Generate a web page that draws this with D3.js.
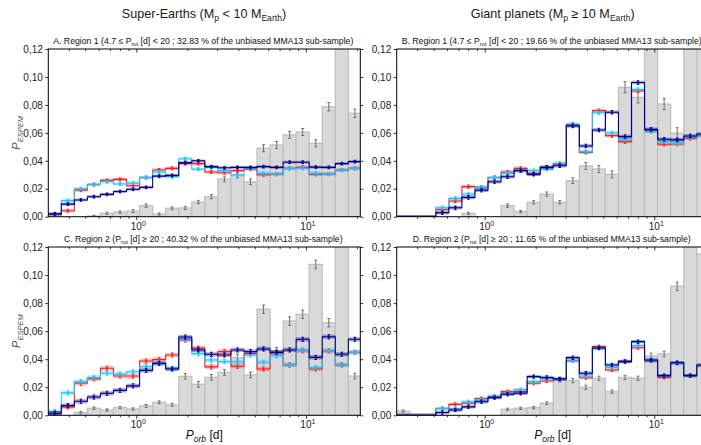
<!DOCTYPE html>
<html>
<head>
<meta charset="utf-8">
<script src="https://cdn.jsdelivr.net/npm/d3@7"></script>
<style>
  body { margin: 0; background: #fff; }
  svg { display: block; font-family: "Liberation Sans", Arial, sans-serif; }
</style>
</head>
<body>
<svg id="chart" width="701" height="445"></svg>
<script>
// orbital period bin edges [d] (log spaced)
const binEdges = [0.3029, 0.3614, 0.4314, 0.5150, 0.6149, 0.7339, 0.8762, 1.0461, 1.2487,
  1.4906, 1.7797, 2.1248, 2.5365, 3.0281, 3.6141, 4.3152, 5.1512, 6.1491, 7.3402,
  8.7614, 10.461, 12.487, 14.906, 17.797, 21.248];
const xDomain = [0.3029, 20.93];
const yTicks = [0, 0.02, 0.04, 0.06, 0.08, 0.10, 0.12];
const xMajor = [1, 10];
const xMinor = [0.4, 0.5, 0.6, 0.7, 0.8, 0.9, 2, 3, 4, 5, 6, 7, 8, 9, 20];

// A. super-earths, region 1
const aGray = [0, 0, 0, 0.0005, 0.0024, 0.0033, 0.004, 0.0079, 0.0019, 0.006, 0.0062, 0.0105,
  0.0143, 0.027, 0.0298, 0.025, 0.049, 0.0513, 0.0585, 0.0606, 0.0525, 0.0787, 0.13, 0.074];
const aGrayErr = [0, 0, 0, 0.0005, 0.0008, 0.0008, 0.001, 0.0012, 0.0008, 0.001, 0.001, 0.0012,
  0.0015, 0.002, 0.002, 0.002, 0.0025, 0.0025, 0.0025, 0.0025, 0.0025, 0.003, 0.003, 0.003];
const aRed = [0.0015, 0.0043, 0.019, 0.023, 0.026, 0.0267, 0.0222, 0.028, 0.0334, 0.0346, 0.038, 0.038,
  0.032, 0.0315, 0.033, 0.034, 0.030, 0.0305, 0.0346, 0.0353, 0.0303, 0.0305, 0.0334, 0.0346];
const aCyan = [0.002, 0.0115, 0.020, 0.023, 0.025, 0.0234, 0.024, 0.028, 0.032, 0.0286, 0.0415, 0.034,
  0.0353, 0.033, 0.0298, 0.0346, 0.031, 0.0305, 0.0346, 0.0346, 0.031, 0.0305, 0.0334, 0.0346];
const aNavy = [0.002, 0.009, 0.012, 0.0143, 0.016, 0.018, 0.0196, 0.021, 0.029, 0.0296, 0.0387, 0.040,
  0.0358, 0.035, 0.0353, 0.0353, 0.0358, 0.0353, 0.039, 0.039, 0.0355, 0.0353, 0.038, 0.0394];
const aErr = [0.0011, 0.0011, 0.001];

// B. giant planets, region 1
const bGray = [0, 0, 0, 0, 0, 0.0024, 0, 0, 0.0079, 0.0036, 0.0103, 0.0162,
  0.0103, 0.0258, 0.0363, 0.0341, 0.0303, 0.0926, 0.0854, 0.13, 0.0806, 0.0597, 0.13, 0.13];
const bGrayErr = [0, 0, 0, 0, 0, 0.0008, 0, 0, 0.0012, 0.0008, 0.0012, 0.0015,
  0.0012, 0.002, 0.0025, 0.0025, 0.0025, 0.004, 0.004, 0.004, 0.004, 0.004, 0.004, 0.004];
const bRed = [0, 0, 0, 0.0052, 0.0112, 0.0215, 0.021, 0.028, 0.032, 0.0346, 0.0305, 0.0353,
  0.038, 0.066, 0.046, 0.0759, 0.058, 0.0537, 0.090, 0.0615, 0.0518, 0.052, 0.056, 0.058];
const bCyan = [0, 0, 0, 0.0064, 0.0131, 0.0162, 0.021, 0.028, 0.031, 0.0334, 0.033, 0.034,
  0.038, 0.066, 0.0465, 0.0744, 0.060, 0.0553, 0.091, 0.061, 0.0537, 0.0525, 0.0568, 0.058];
const bNavy = [0, 0, 0, 0.0029, 0.0064, 0.0138, 0.019, 0.025, 0.0286, 0.033, 0.0305, 0.0353,
  0.0365, 0.065, 0.0506, 0.062, 0.0747, 0.0573, 0.096, 0.0625, 0.0554, 0.055, 0.0578, 0.0592];
const bErr = [0.0012, 0.0012, 0.0013];

// C. super-earths, region 2
const cGray = [0, 0, 0.002, 0.005, 0.0038, 0.0055, 0.0045, 0.0067, 0.0093, 0.0074, 0.0278, 0.0221,
  0.0271, 0.0306, 0.041, 0.0288, 0.0756, 0.0459, 0.0672, 0.072, 0.1076, 0.066, 0.13, 0.028];
const cGrayErr = [0, 0, 0.0008, 0.0008, 0.0008, 0.0008, 0.0008, 0.001, 0.001, 0.001, 0.002, 0.002,
  0.002, 0.002, 0.0025, 0.002, 0.003, 0.0025, 0.003, 0.003, 0.003, 0.003, 0.003, 0.002];
const cRed = [0.001, 0.006, 0.0228, 0.026, 0.0335, 0.028, 0.028, 0.0387, 0.0397, 0.043, 0.0537, 0.048,
  0.0345, 0.0454, 0.035, 0.044, 0.033, 0.0449, 0.0359, 0.046, 0.033, 0.0459, 0.0359, 0.0449];
const cCyan = [0.0026, 0.016, 0.024, 0.027, 0.030, 0.0295, 0.031, 0.0347, 0.037, 0.0335, 0.0544, 0.044,
  0.0394, 0.0383, 0.038, 0.043, 0.0378, 0.0425, 0.0359, 0.0466, 0.034, 0.0459, 0.0359, 0.045];
const cNavy = [0.0015, 0.007, 0.010, 0.013, 0.0157, 0.0178, 0.021, 0.032, 0.037, 0.033, 0.0558, 0.0466,
  0.0435, 0.043, 0.0466, 0.0454, 0.0473, 0.0449, 0.0466, 0.0542, 0.0413, 0.056, 0.0435, 0.0542];
const cErr = [0.0015, 0.0015, 0.0015];

// D. giant planets, region 2
const dGray = [0.003, 0, 0, 0, 0, 0, 0, 0, 0.0043, 0.005, 0.0055, 0.0086,
  0.0252, 0.0247, 0.020, 0.0264, 0.0169, 0.027, 0.0264, 0.0423, 0.0437, 0.092, 0.13, 0.115];
const dGrayErr = [0.0008, 0, 0, 0, 0, 0, 0, 0, 0.0008, 0.0008, 0.0008, 0.001,
  0.0015, 0.0015, 0.0015, 0.0015, 0.0012, 0.0015, 0.0015, 0.002, 0.002, 0.003, 0.003, 0.003];
const dRed = [0, 0, 0, 0.0048, 0.0078, 0.0086, 0.012, 0.013, 0.0169, 0.0169, 0.0228, 0.0245,
  0.0255, 0.039, 0.0268, 0.049, 0.0323, 0.0387, 0.0482, 0.0387, 0.027, 0.037, 0.0283, 0.0354];
const dCyan = [0, 0, 0, 0.0048, 0.0045, 0.0097, 0.011, 0.0138, 0.0157, 0.0183, 0.024, 0.026,
  0.0255, 0.0387, 0.028, 0.048, 0.034, 0.0383, 0.0497, 0.0387, 0.028, 0.037, 0.0283, 0.0354];
const dNavy = [0, 0, 0, 0.002, 0.0038, 0.006, 0.0097, 0.0126, 0.015, 0.0157, 0.0276, 0.027,
  0.026, 0.0411, 0.030, 0.048, 0.0359, 0.0383, 0.0525, 0.0394, 0.0283, 0.0376, 0.0283, 0.0359];
const dErr = [0.0011, 0.0011, 0.0012];

const seriesColors = ['#ff1a1a', '#1ec3ff', '#00008b'];
const bandOpacity = [0.3, 0.3, 0.35];

const svg = d3.select('#chart');
const width = 312;

const panels = [
  { key: 'A', x0: 48.3, y0: 49, h: 167.7, gray: aGray, grayErr: aGrayErr, lines: [aRed, aCyan, aNavy], err: aErr,
    sub: ['A. Region 1 (4.7 ≤ P', 'rot', ' [d] < 20 ; 32.83 % of the unbiased MMA13 sub-sample)'], subY: 43.5, yLabel: true, xLabel: false },
  { key: 'B', x0: 396.7, y0: 49, h: 167.7, gray: bGray, grayErr: bGrayErr, lines: [bRed, bCyan, bNavy], err: bErr,
    sub: ['B. Region 1 (4.7 ≤ P', 'rot', ' [d] < 20 ; 19.66 % of the unbiased MMA13 sub-sample)'], subY: 43.5, yLabel: false, xLabel: false },
  { key: 'C', x0: 48.3, y0: 247, h: 168.3, gray: cGray, grayErr: cGrayErr, lines: [cRed, cCyan, cNavy], err: cErr,
    sub: ['C. Region 2 (P', 'rot', ' [d] ≥ 20 ; 40.32 % of the unbiased MMA13 sub-sample)'], subY: 241.5, yLabel: true, xLabel: true },
  { key: 'D', x0: 396.7, y0: 247, h: 168.3, gray: dGray, grayErr: dGrayErr, lines: [dRed, dCyan, dNavy], err: dErr,
    sub: ['D. Region 2 (P', 'rot', ' [d] ≥ 20 ; 11.65 % of the unbiased MMA13 sub-sample)'], subY: 241.5, yLabel: false, xLabel: true }
];

// column titles
function columnTitle(cx, parts) {
  const t = svg.append('text')
    .attr('x', cx).attr('y', 17.5)
    .attr('text-anchor', 'middle')
    .attr('font-size', 12.6)
    .attr('fill', '#1a1a1a');
  parts.forEach(p => {
    const s = t.append('tspan').text(p[0]);
    if (p[1]) s.attr('font-size', 8.6).attr('baseline-shift', '-2.5');
  });
}
columnTitle(204, [['Super-Earths (M'], ['p', true], [' < 10 M'], ['Earth', true], [')']]);
columnTitle(552.7, [['Giant planets (M'], ['p', true], [' ≥ 10 M'], ['Earth', true], [')']]);

panels.forEach(p => {
  const x = d3.scaleLog().domain(xDomain).range([0, width]);
  const y = d3.scaleLinear().domain([0, 0.12]).range([p.h, 0]);

  const g = svg.append('g').attr('transform', `translate(${p.x0},${p.y0})`);

  g.append('clipPath').attr('id', 'clip' + p.key)
    .append('rect').attr('width', width).attr('height', p.h);
  const plot = g.append('g').attr('clip-path', `url(#clip${p.key})`);

  const bins = p.gray.map((v, i) => ({ i, lo: binEdges[i], hi: binEdges[i + 1], v, e: p.grayErr[i] }));

  // gray histogram
  plot.selectAll('.bar')
    .data(bins.filter(d => d.v > 0))
    .enter().append('rect')
    .attr('x', d => x(d.lo))
    .attr('y', d => y(d.v))
    .attr('width', d => x(d.hi) - x(d.lo))
    .attr('height', d => p.h - y(d.v))
    .attr('fill', '#d9d9d9')
    .attr('stroke', '#c0c0c0')
    .attr('stroke-width', 1.3);

  const mid = d => Math.sqrt(d.lo * d.hi);

  // gray error bars
  const ge = plot.selectAll('.gerr')
    .data(bins.filter(d => d.v > 0 && d.e > 0))
    .enter().append('g')
    .attr('stroke', '#707070').attr('stroke-width', 1);
  ge.append('line')
    .attr('x1', d => x(mid(d))).attr('x2', d => x(mid(d)))
    .attr('y1', d => y(d.v - d.e)).attr('y2', d => y(d.v + d.e));
  ge.append('line')
    .attr('x1', d => x(mid(d)) - 1.5).attr('x2', d => x(mid(d)) + 1.5)
    .attr('y1', d => y(d.v - d.e)).attr('y2', d => y(d.v - d.e));
  ge.append('line')
    .attr('x1', d => x(mid(d)) - 1.5).attr('x2', d => x(mid(d)) + 1.5)
    .attr('y1', d => y(d.v + d.e)).attr('y2', d => y(d.v + d.e));

  // step lines with a 1-sigma band
  p.lines.forEach((vals, si) => {
    const col = seriesColors[si];
    const err = p.err[si];
    const pts = vals.map((v, i) => ({ x: binEdges[i], v }));
    pts.push({ x: binEdges[vals.length], v: vals[vals.length - 1] });

    const area = d3.area()
      .x(d => x(d.x))
      .y0(d => y(Math.max(0, d.v - err)))
      .y1(d => y(d.v + err))
      .curve(d3.curveStepAfter);
    plot.append('path').datum(pts)
      .attr('d', area)
      .attr('fill', col)
      .attr('fill-opacity', bandOpacity[si]);

    const line = d3.line()
      .x(d => x(d.x))
      .y(d => y(d.v))
      .curve(d3.curveStepAfter);
    plot.append('path').datum(pts)
      .attr('d', line)
      .attr('fill', 'none')
      .attr('stroke', col)
      .attr('stroke-width', 1.1);

    const marks = vals.map((v, i) => ({ lo: binEdges[i], hi: binEdges[i + 1], v }))
      .filter(d => d.v > 0);
    const me = plot.selectAll('.m' + si).data(marks).enter().append('g')
      .attr('stroke', col).attr('stroke-width', 0.9);
    me.append('line')
      .attr('x1', d => x(mid(d))).attr('x2', d => x(mid(d)))
      .attr('y1', d => y(d.v - err)).attr('y2', d => y(d.v + err));
    me.append('line')
      .attr('x1', d => x(mid(d)) - 1.3).attr('x2', d => x(mid(d)) + 1.3)
      .attr('y1', d => y(d.v - err)).attr('y2', d => y(d.v - err));
    me.append('line')
      .attr('x1', d => x(mid(d)) - 1.3).attr('x2', d => x(mid(d)) + 1.3)
      .attr('y1', d => y(d.v + err)).attr('y2', d => y(d.v + err));
    me.append('circle')
      .attr('cx', d => x(mid(d))).attr('cy', d => y(d.v))
      .attr('r', 1.1).attr('fill', col).attr('stroke', 'none');
  });

  // axes
  const styleAxis = sel => {
    sel.select('.domain').remove();
    sel.selectAll('line').attr('stroke', '#000').attr('stroke-width', 0.8);
  };
  g.append('g').attr('transform', `translate(0,${p.h})`)
    .call(d3.axisBottom(x).tickValues(xMajor).tickSize(3.5).tickFormat(''))
    .call(styleAxis);
  g.append('g').attr('transform', `translate(0,${p.h})`)
    .call(d3.axisBottom(x).tickValues(xMinor).tickSize(2).tickFormat(''))
    .call(styleAxis);
  g.append('g')
    .call(d3.axisTop(x).tickValues(xMajor).tickSize(-3.5).tickFormat(''))
    .call(styleAxis);
  g.append('g')
    .call(d3.axisTop(x).tickValues(xMinor).tickSize(-2).tickFormat(''))
    .call(styleAxis);

  const yAx = g.append('g')
    .call(d3.axisLeft(y).tickValues(yTicks).tickSize(3).tickPadding(2.5)
      .tickFormat(d => d.toFixed(2).replace('.', ',')))
    .call(styleAxis);
  yAx.selectAll('text')
    .attr('font-family', '"Liberation Sans", Arial, sans-serif')
    .attr('font-size', 10).attr('fill', '#222');
  g.append('g').attr('transform', `translate(${width},0)`)
    .call(d3.axisRight(y).tickValues(yTicks).tickSize(3).tickFormat(''))
    .call(styleAxis);

  // x tick labels 10^0, 10^1
  xMajor.forEach(v => {
    const t = g.append('text')
      .attr('x', x(v) + 2).attr('y', p.h + 13)
      .attr('text-anchor', 'middle')
      .attr('font-size', 10).attr('fill', '#222');
    t.append('tspan').text('10');
    t.append('tspan').text(Math.round(Math.log10(v))).attr('font-size', 7).attr('dy', -4);
  });

  // frame
  g.append('rect')
    .attr('width', width).attr('height', p.h)
    .attr('fill', 'none').attr('stroke', '#000').attr('stroke-width', 1);

  // panel subtitle
  const st = svg.append('text')
    .attr('x', p.x0 + width / 2 - 1).attr('y', p.subY)
    .attr('text-anchor', 'middle')
    .attr('font-size', 8.7).attr('fill', '#111');
  st.append('tspan').text(p.sub[0]);
  st.append('tspan').text(p.sub[1]).attr('font-size', 5.8).attr('baseline-shift', '-1.5');
  st.append('tspan').text(p.sub[2]);

  if (p.yLabel) {
    const yl = svg.append('text')
      .attr('transform', `translate(20,${p.y0 + p.h / 2}) rotate(-90)`)
      .attr('text-anchor', 'middle')
      .attr('font-size', 11).attr('fill', '#555')
      .attr('font-style', 'italic');
    yl.append('tspan').text('P');
    yl.append('tspan').text('ESPEM').attr('font-size', 7.5).attr('baseline-shift', '-2.5');
  }
  if (p.xLabel) {
    const xl = svg.append('text')
      .attr('x', p.x0 + width / 2).attr('y', 439)
      .attr('text-anchor', 'middle')
      .attr('font-size', 12).attr('fill', '#111');
    xl.append('tspan').text('P').attr('font-style', 'italic');
    xl.append('tspan').text('orb').attr('font-style', 'italic').attr('font-size', 8.5).attr('baseline-shift', '-3');
    xl.append('tspan').text(' [d]');
  }
});
</script>
</body>
</html>
